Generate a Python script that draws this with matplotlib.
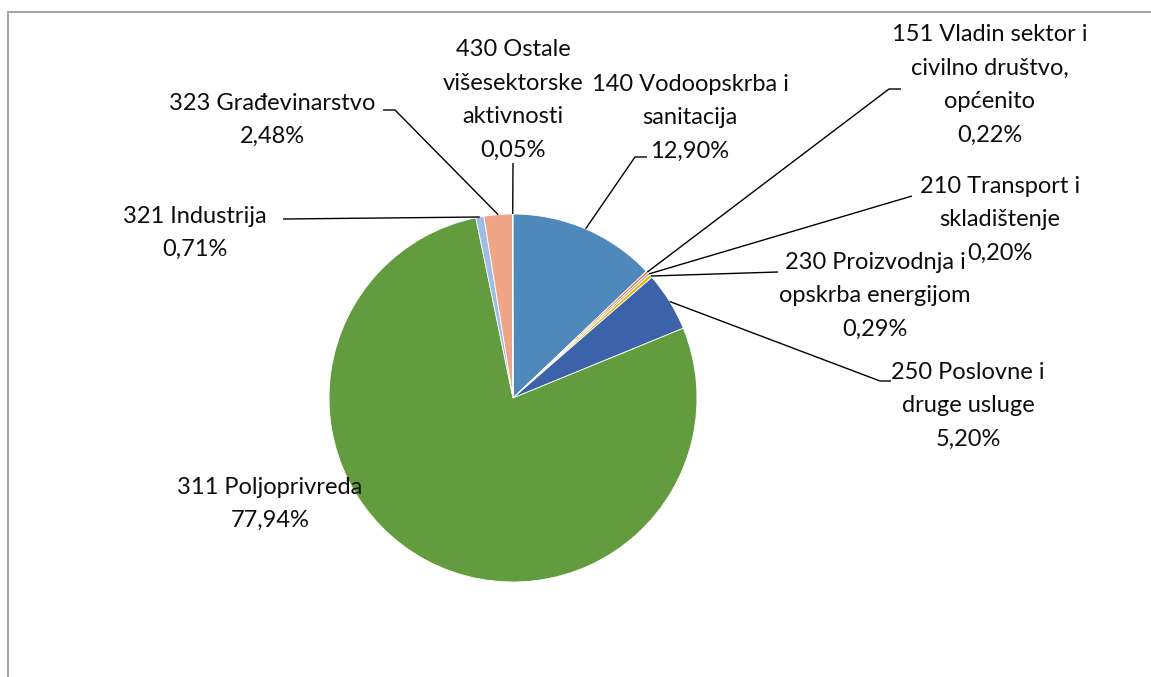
import numpy as np
import matplotlib.pyplot as plt
from matplotlib.patches import Rectangle

# sectors, clockwise from 12 o'clock
labels = ["140 Vodoopskrba i\nsanitacija",
          "151 Vladin sektor i\ncivilno društvo,\nopćenito",
          "210 Transport i\nskladištenje",
          "230 Proizvodnja i\nopskrba energijom",
          "250 Poslovne i\ndruge usluge",
          "311 Poljoprivreda",
          "321 Industrija",
          "323 Građevinarstvo",
          "430 Ostale\nvišesektorske\naktivnosti"]
shares = [12.90, 0.22, 0.20, 0.29, 5.20, 77.94, 0.71, 2.48, 0.05]
colors = ["#4f88bb", "#e8782f", "#a5a5a5", "#f2b000", "#3c63aa",
          "#629c3e", "#9cbee4", "#f0a586", "#4f88bb"]

# label text centres and leader line end (elbow) points, in pixels from top-left
text_pos = [(690, 118), (990, 85), (1000, 220), (875, 296), (968, 406),
            (270, 504), (195, 233), (272, 120), (513, 100)]
elbow = [((635, 157), (647, 157)), ((889, 89), (901, 89)), ((912, 196), (912, 196)),
         ((778, 272), (778, 272)), ((880, 381), (891, 381)), None,
         ((283, 219), (283, 219)), ((395, 110), (383, 110)), ((513, 163), (513, 163))]

W, H = 1151, 677
cx, cy, r = 513, 398, 184

fig = plt.figure(figsize=(W / 100, H / 100), dpi=100)
ax = fig.add_axes([0, 0, 1, 1])
ax.set_xlim(0, W)
ax.set_ylim(0, H)
ax.axis("off")

wedges, _ = ax.pie(shares, colors=colors, startangle=90, counterclock=False,
                   center=(cx, H - cy), radius=r,
                   wedgeprops=dict(edgecolor="white", linewidth=0.6))
ax.set_xlim(0, W)
ax.set_ylim(0, H)
ax.set_aspect("equal")

for w, lab, val, (tx, ty), el in zip(wedges, labels, shares, text_pos, elbow):
    txt = lab + "\n" + f"{val:.2f}".replace(".", ",") + "%"
    ax.text(tx, H - ty, txt, ha="center", va="center", fontsize=17,
            family="Lato", linespacing=1.73, color="#0d0d0d")
    if el is None:
        continue
    mid = np.deg2rad((w.theta1 + w.theta2) / 2)
    x0 = cx + r * np.cos(mid)
    y0 = (H - cy) + r * np.sin(mid)
    (ex, ey), (hx, hy) = el
    ax.plot([x0, ex, hx], [y0, H - ey, H - hy], color="black", lw=1.0,
            solid_capstyle="butt")

# chart area border (runs off the image at right and bottom)
fig.patches.append(Rectangle((8 / W, -0.1), 1.2, 1 - 12 / H + 0.1,
                             transform=fig.transFigure, fill=False,
                             edgecolor="#a6a6a6", linewidth=1.5))

fig.savefig("out.png", dpi=100)
